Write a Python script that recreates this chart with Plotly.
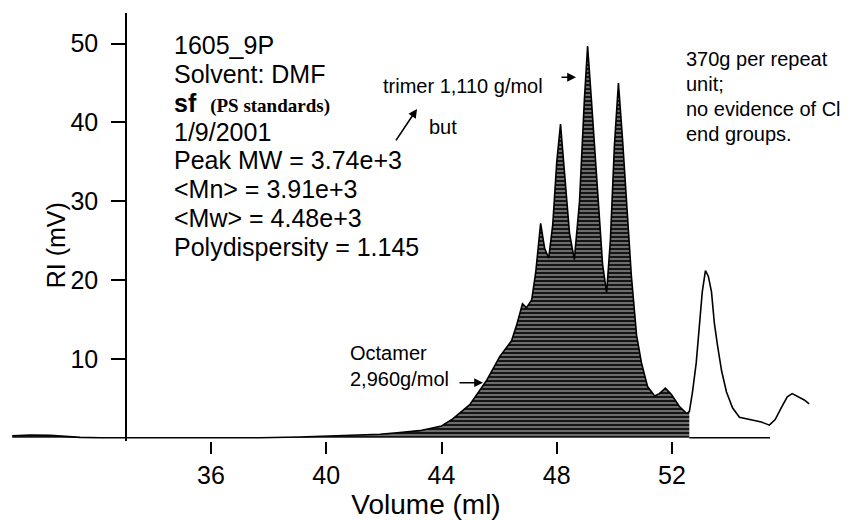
import plotly.graph_objects as go

# ---------------- data ----------------
# filled part of the chromatogram (polymer distribution)
vol_filled = [29.10, 29.73, 30.42, 31.46, 32.15, 33.05, 34.23, 36.00, 37.70, 39.08,
              40.00, 40.82, 41.86, 42.55, 43.24, 44.00, 44.39, 44.98, 45.57, 46.02,
              46.26, 46.43, 46.60, 46.71, 46.81, 46.95, 47.13, 47.27, 47.44, 47.58,
              47.72, 47.86, 48.00, 48.13, 48.27, 48.44, 48.61, 48.79, 48.96, 49.07,
              49.20, 49.38, 49.59, 49.73, 49.86, 50.00, 50.14, 50.28, 50.45, 50.59,
              50.77, 50.94, 51.15, 51.40, 51.56, 51.77, 51.98, 52.25, 52.50, 52.60]
ri_filled = [0.25, 0.35, 0.30, 0.05, 0.00, 0.00, 0.00, 0.00, 0.00, 0.10,
             0.20, 0.30, 0.45, 0.65, 0.90, 1.50, 2.40, 4.20, 7.30, 10.30,
             11.40, 12.30, 14.20, 15.70, 17.00, 16.50, 17.50, 21.00, 27.20, 24.00,
             22.80, 27.00, 35.00, 39.80, 34.00, 26.00, 22.60, 30.00, 43.00, 49.70,
             43.00, 33.00, 22.00, 18.40, 25.00, 37.00, 45.00, 38.00, 28.00, 20.50,
             13.00, 9.50, 6.50, 5.30, 5.60, 6.30, 5.50, 4.00, 3.10, 3.30]

# unfilled tail (solvent / low-MW peaks)
vol_tail = [52.60, 52.71, 52.84, 52.95, 53.05, 53.16, 53.26, 53.37, 53.47, 53.58,
            53.72, 53.89, 54.10, 54.34, 54.79, 55.10, 55.38, 55.58, 55.79, 56.00,
            56.17, 56.35, 56.59, 56.76]
ri_tail = [3.30, 5.80, 9.50, 13.80, 18.50, 21.20, 20.50, 18.50, 14.50, 11.70,
           8.50, 5.80, 3.80, 2.60, 2.20, 2.00, 1.60, 2.30, 3.80, 5.20,
           5.60, 5.30, 4.80, 4.30]

# baseline drawn under the unfilled tail
vol_base = [52.60, 55.40]
ri_base = [0.0, 0.0]

x_ticks = [36, 40, 44, 48, 52]
y_ticks = [10, 20, 30, 40, 50]

info_lines = ["1605_9P", "Solvent: DMF",
              "<b>sf</b>  <span style='font-family:Liberation Serif;font-size:19px;font-weight:bold'>(PS standards)</span>",
              "1/9/2001", "Peak MW = 3.74e+3", "&lt;Mn&gt; = 3.91e+3",
              "&lt;Mw&gt; = 4.48e+3", "Polydispersity = 1.145"]
note_lines = ["370g per repeat", "unit;", "no evidence of Cl", "end groups."]

# ---------------- layout geometry (pixels) ----------------
W, H = 851, 520
ML, MR, MT, MB = 12, 11, 13, 74
PW, PH = W - ML - MR, H - MT - MB
PB = H - MB

X_RANGE = [29.093, 57.83]
Y_RANGE = [-0.41, 53.89]


def pxx(p):
    return (p - ML) / PW


def pxy(p):
    return (PB - p) / PH


FONT = "Liberation Sans, Arial, Helvetica, sans-serif"

fig = go.Figure()

fig.add_trace(go.Scatter(
    x=vol_filled, y=ri_filled, mode="lines",
    line=dict(color="black", width=1.6),
    fill="tozeroy",
    fillcolor="#202020",
    fillpattern=dict(shape="-", bgcolor="#151515", fgcolor="#eeeeee",
                     size=4, solidity=0.4),
    hoverinfo="skip", showlegend=False))

fig.add_trace(go.Scatter(
    x=vol_tail, y=ri_tail, mode="lines",
    line=dict(color="black", width=1.6),
    hoverinfo="skip", showlegend=False))

fig.add_trace(go.Scatter(
    x=vol_base, y=ri_base, mode="lines",
    line=dict(color="black", width=1.3),
    hoverinfo="skip", showlegend=False))

annotations = []

# info block
info_y = [45 + 29.3 * i for i in range(len(info_lines))]
for txt, yy in zip(info_lines, info_y):
    annotations.append(dict(text=txt, xref="paper", yref="paper",
                            x=pxx(173), y=pxy(yy), xanchor="left", yanchor="middle",
                            borderpad=0,
                            showarrow=False, font=dict(family=FONT, size=25, color="black")))

# right note
for txt, yy in zip(note_lines, [60, 85, 110, 135]):
    annotations.append(dict(text=txt, xref="paper", yref="paper",
                            x=pxx(685), y=pxy(yy), xanchor="left", yanchor="middle",
                            borderpad=0,
                            showarrow=False, font=dict(family=FONT, size=20, color="black")))

# peak labels
small = dict(family=FONT, size=20, color="black")
annotations += [
    dict(text="trimer 1,110 g/mol", xref="paper", yref="paper", x=pxx(382), y=pxy(87),
         xanchor="left", yanchor="middle", showarrow=False, font=small, borderpad=0),
    dict(text="but", xref="paper", yref="paper", x=pxx(428), y=pxy(128),
         xanchor="left", yanchor="middle", showarrow=False, font=small, borderpad=0),
    dict(text="Octamer", xref="paper", yref="paper", x=pxx(349), y=pxy(357),
         xanchor="left", yanchor="middle", showarrow=False, font=small, borderpad=0),
    dict(text="2,960g/mol", xref="paper", yref="paper", x=pxx(349), y=pxy(383),
         xanchor="left", yanchor="middle", showarrow=False, font=small, borderpad=0),
]

# arrows
for (hx, hy, tx, ty) in [(417, 110, 395, 143), (576, 78, 560, 78), (483, 387, 458, 387)]:
    annotations.append(dict(text="", xref="paper", yref="paper", x=pxx(hx), y=pxy(hy),
                            ax=tx - hx, ay=ty - hy, showarrow=True, arrowhead=2,
                            arrowsize=1.1, arrowwidth=1.6, arrowcolor="black", standoff=0))

# y axis title (rotated)
annotations.append(dict(text="RI (mV)", xref="paper", yref="paper", x=pxx(56), y=pxy(248),
                        textangle=-90, showarrow=False, xanchor="center", yanchor="middle",
                        font=dict(family=FONT, size=25, color="black")))

fig.update_layout(
    width=W, height=H,
    margin=dict(l=ML, r=MR, t=MT, b=MB, pad=0),
    paper_bgcolor="white", plot_bgcolor="white",
    showlegend=False,
    annotations=annotations,
    xaxis=dict(range=X_RANGE, tickvals=x_ticks, ticktext=[str(v) for v in x_ticks],
               showline=False, showgrid=False, zeroline=False,
               ticks="outside", ticklen=12, tickwidth=1.5, tickcolor="black",
               tickfont=dict(family=FONT, size=25, color="black"),
               title=dict(text="Volume (ml)", font=dict(family=FONT, size=28, color="black"),
                          standoff=0)),
    yaxis=dict(range=Y_RANGE, tickvals=y_ticks, ticktext=[str(v) for v in y_ticks],
               anchor="free", position=pxx(126),
               showline=True, linecolor="black", linewidth=1.6,
               showgrid=False, zeroline=False,
               ticks="outside", ticklen=14, tickwidth=1.5, tickcolor="black",
               ticklabelstandoff=8,
               tickfont=dict(family=FONT, size=25, color="black")),
)

fig.write_html("out.html")
